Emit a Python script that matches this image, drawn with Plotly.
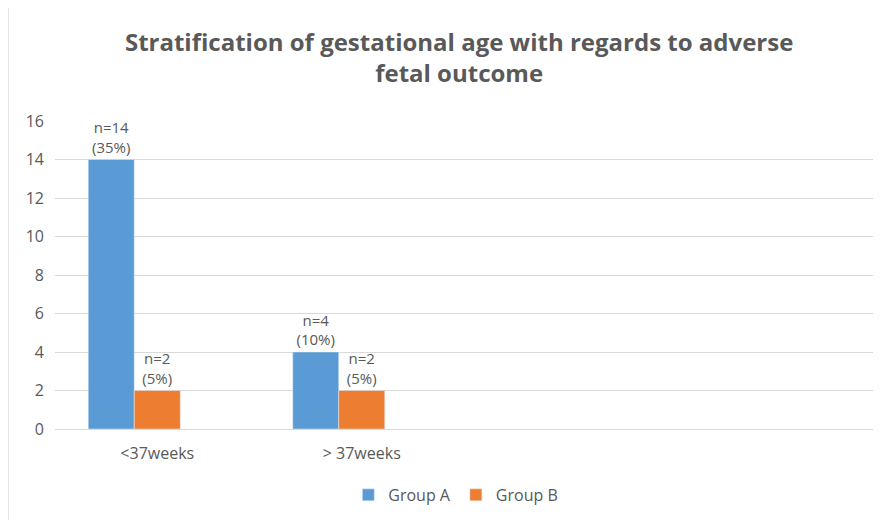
import plotly.graph_objects as go

categories = ["<37weeks", "> 37weeks", " ", "  "]
group_a = [14, 4, None, None]
group_b = [2, 2, None, None]
group_c = [None, None, None, None]
labels_a = ["n=14<br>(35%)", "n=4<br>(10%)", "", ""]
labels_b = ["n=2<br>(5%)", "n=2<br>(5%)", "", ""]
y_ticks = [0, 2, 4, 6, 8, 10, 12, 14, 16]

FONT = "'Open Sans', sans-serif"
GREY = "#595959"

fig = go.Figure()
fig.add_trace(go.Bar(x=categories, y=group_a, name="Group A", marker_color="#5B9BD5",
                     text=labels_a, textposition="outside", cliponaxis=False,
                     textfont=dict(size=15, color=GREY, family=FONT)))
fig.add_trace(go.Bar(x=categories, y=group_b, name="Group B", marker_color="#ED7D31",
                     text=labels_b, textposition="outside", cliponaxis=False,
                     textfont=dict(size=15, color=GREY, family=FONT)))
fig.add_trace(go.Bar(x=categories, y=group_c, name="", marker_color="#A5A5A5",
                     showlegend=False))

fig.update_layout(
    width=876, height=512,
    paper_bgcolor="white", plot_bgcolor="white",
    margin=dict(l=47, r=11, t=113, b=91, autoexpand=False),
    barmode="group", bargap=0.325, bargroupgap=0,
    font=dict(family=FONT, color=GREY, size=16),
    title=dict(text="<b>Stratification of gestational age with regards to adverse<br>fetal outcome</b>",
               x=0.515, xanchor="center", y=0.916, yanchor="top",
               font=dict(size=24, color=GREY, family=FONT)),
    xaxis=dict(type="category", categoryorder="array", categoryarray=categories,
               range=[-0.5, 3.5], showgrid=False, showline=False, ticks="",
               automargin=False,
               tickfont=dict(size=16, color=GREY), ticklabelstandoff=13),
    yaxis=dict(range=[0, 16], tickvals=y_ticks, showgrid=True, gridcolor="#D9D9D9",
               gridwidth=1, zeroline=True, zerolinecolor="#D9D9D9", zerolinewidth=1,
               showline=False, ticks="", automargin=False,
               tickfont=dict(size=16, color=GREY), ticklabelstandoff=10),
    legend=dict(orientation="h", x=0.49, xanchor="center", y=-0.159, yanchor="top",
                font=dict(size=16, color=GREY), traceorder="normal", itemwidth=30),
    shapes=[dict(type="rect", xref="paper", yref="paper", x0=-0.0575, x1=1.05,
                 y0=-0.35, y1=1.370, line=dict(color="#D9D9D9", width=1.5),
                 fillcolor="rgba(0,0,0,0)", layer="below")],
)

fig.write_html("out.html")
